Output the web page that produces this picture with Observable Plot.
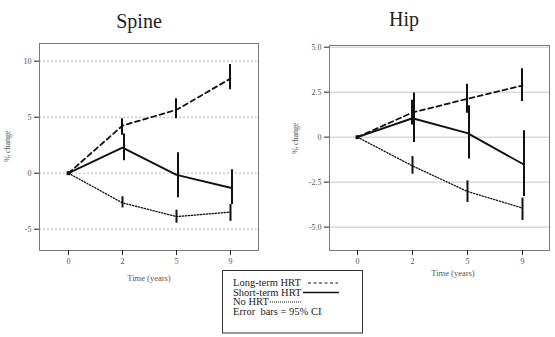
<!DOCTYPE html>
<html>
<head>
<meta charset="utf-8">
<script src="https://cdn.jsdelivr.net/npm/d3@7"></script>
<script src="https://cdn.jsdelivr.net/npm/@observablehq/plot@0.6"></script>
<style>
  html, body { margin: 0; padding: 0; background: white; }
  #wrap { position: relative; width: 555px; height: 337px; overflow: hidden; background: white; }
  #wrap > svg { position: absolute; top: 0; }
</style>
</head>
<body>
<div id="wrap"></div>
<script>
// ---- data ----
const times = ["0", "2", "5", "9"];
const seriesNames = ["Long-term HRT", "Short-term HRT", "No HRT"];

// Spine (% change)
const spineLong = [0, 4.25, 5.66, 8.45];
const spineLongLo = [0, 3.4, 4.86, 7.45];
const spineLongHi = [0, 4.86, 6.64, 9.7];
const spineShort = [0, 2.28, -0.15, -1.3];
const spineShortLo = [0, 1.12, -2.2, -2.8];
const spineShortHi = [0, 3.5, 1.82, 0.3];
const spineNone = [0, -2.65, -3.87, -3.47];
const spineNoneLo = [0, -3.1, -4.46, -4.3];
const spineNoneHi = [0, -2.1, -3.3, -2.8];
const spineTicks = [-5, 0, 5, 10];

// Hip (% change)
const hipLong = [0, 1.37, 2.13, 2.87];
const hipLongLo = [0, 0.68, 1.33, 1.98];
const hipLongHi = [0, 2.05, 2.94, 3.8];
const hipShort = [0, 1.05, 0.22, -1.48];
const hipShortLo = [0, -0.3, -1.22, -3.3];
const hipShortHi = [0, 2.45, 1.74, 0.35];
const hipNone = [0, -1.6, -3.02, -3.94];
const hipNoneLo = [0, -2.06, -3.63, -4.63];
const hipNoneHi = [0, -1.08, -2.43, -3.39];
const hipTicks = [-5, -2.5, 0, 2.5, 5];

function table(series, v, lo, hi) {
  return times.map((t, i) => ({time: t, series, value: v[i], lo: lo[i], hi: hi[i]}));
}

const styles = {
  "Long-term HRT": {strokeWidth: 1.8, strokeDasharray: "5,3.5", dx: -0.5},
  "Short-term HRT": {strokeWidth: 1.9, strokeDasharray: null, dx: 1.5},
  "No HRT": {strokeWidth: 1.3, strokeDasharray: "1.3,1.7", dx: 0}
};

function panel(sets, opts) {
  const marks = [
    Plot.gridY(opts.ticks, {stroke: opts.gridColor, strokeOpacity: 1, strokeWidth: 0.8, strokeDasharray: opts.gridDash}),
    Plot.frame({stroke: "#7a7a7a", strokeWidth: 1})
  ];
  for (const s of sets) {
    const st = styles[s[0].series];
    marks.push(Plot.line(s, {x: "time", y: "value", stroke: "#111", strokeWidth: st.strokeWidth, strokeDasharray: st.strokeDasharray}));
    marks.push(Plot.ruleX(s.filter(d => d.time !== "0"), {x: "time", y1: "lo", y2: "hi", dx: st.dx, stroke: "#111", strokeWidth: 2}));
  }
  marks.push(Plot.dot([{time: "0", value: 0}], {x: "time", y: "value", symbol: "square", r: 2.2, fill: "#111"}));
  marks.push(Plot.axisY(opts.ticks, {tickSize: 5, tickPadding: 3, tickFormat: opts.fmt, label: null, stroke: "#222"}));
  marks.push(Plot.axisX({tickSize: 5, tickPadding: 3, label: null, stroke: "#222"}));
  return Plot.plot({
    width: opts.width, height: 290,
    marginLeft: opts.ml, marginRight: opts.mr, marginTop: opts.mt, marginBottom: 40,
    x: {type: "point", domain: times, padding: 0.5},
    y: {domain: opts.domain},
    style: {fontFamily: "'Liberation Serif', serif", fontSize: "8px", color: "#555", background: "transparent"},
    marks
  });
}

const spineSets = [
  table(seriesNames[0], spineLong, spineLongLo, spineLongHi),
  table(seriesNames[1], spineShort, spineShortLo, spineShortHi),
  table(seriesNames[2], spineNone, spineNoneLo, spineNoneHi)
];
const hipSets = [
  table(seriesNames[0], hipLong, hipLongLo, hipLongHi),
  table(seriesNames[1], hipShort, hipShortLo, hipShortHi),
  table(seriesNames[2], hipNone, hipNoneLo, hipNoneHi)
];

const wrap = document.getElementById("wrap");
const left = panel(spineSets, {width: 270, ml: 39, mr: 12, mt: 43, domain: [-6.9, 11.58], ticks: spineTicks,
  fmt: d => String(d), gridColor: "#a8a8a8", gridDash: "2,2"});
left.style.left = "0px";
wrap.appendChild(left);
const right = panel(hipSets, {width: 275, ml: 49, mr: 6, mt: 45, domain: [-6.3, 5.094], ticks: hipTicks,
  fmt: d => d === 0 ? "0" : d.toFixed(1), gridColor: "#b8b8b8", gridDash: null});
right.style.left = "280px";
wrap.appendChild(right);

// ---- overlay: titles, axis labels, legend ----
const svg = d3.select(wrap).append("svg")
  .attr("width", 555).attr("height", 337)
  .style("left", "0px")
  .style("font-family", "'Liberation Serif', serif");

svg.append("text").attr("x", 139).attr("y", 28).attr("text-anchor", "middle")
  .attr("font-size", 20).attr("fill", "#222").text("Spine");
svg.append("text").attr("x", 404).attr("y", 26).attr("text-anchor", "middle")
  .attr("font-size", 20).attr("fill", "#222").text("Hip");

svg.append("text").attr("transform", "translate(10,146) rotate(-90)").attr("text-anchor", "middle")
  .attr("font-size", 8).attr("fill", "#555").text("% change");
svg.append("text").attr("transform", "translate(298,138) rotate(-90)").attr("text-anchor", "middle")
  .attr("font-size", 8).attr("fill", "#555").text("% change");
svg.append("text").attr("x", 149).attr("y", 281).attr("text-anchor", "middle")
  .attr("font-size", 8.5).attr("fill", "#555").text("Time (years)");
svg.append("text").attr("x", 453).attr("y", 276).attr("text-anchor", "middle")
  .attr("font-size", 8.5).attr("fill", "#555").text("Time (years)");

// legend box
const lg = svg.append("g");
lg.append("rect").attr("x", 222.5).attr("y", 270.5).attr("width", 140).attr("height", 62.5)
  .attr("fill", "white").attr("stroke", "#333").attr("stroke-width", 1);
const legendLines = [
  {label: "Long-term HRT", y: 286, x1: 308, x2: 338, dash: "3,2.5", w: 1},
  {label: "Short-term HRT", y: 295.5, x1: 303, x2: 339, dash: null, w: 1.5},
  {label: "No HRT", y: 305, x1: 270, x2: 302, dash: "1,1", w: 1},
  {label: "Error  bars = 95% CI", y: 314.5}
];
for (const l of legendLines) {
  lg.append("text").attr("x", 233).attr("y", l.y).attr("font-size", 10.5).attr("fill", "#222")
    .attr("xml:space", "preserve").style("white-space", "pre").text(l.label);
  if (l.x1 != null) {
    lg.append("line").attr("x1", l.x1).attr("x2", l.x2).attr("y1", l.y - 3).attr("y2", l.y - 3)
      .attr("stroke", "#111").attr("stroke-width", l.w).attr("stroke-dasharray", l.dash);
  }
}
</script>
</body>
</html>
